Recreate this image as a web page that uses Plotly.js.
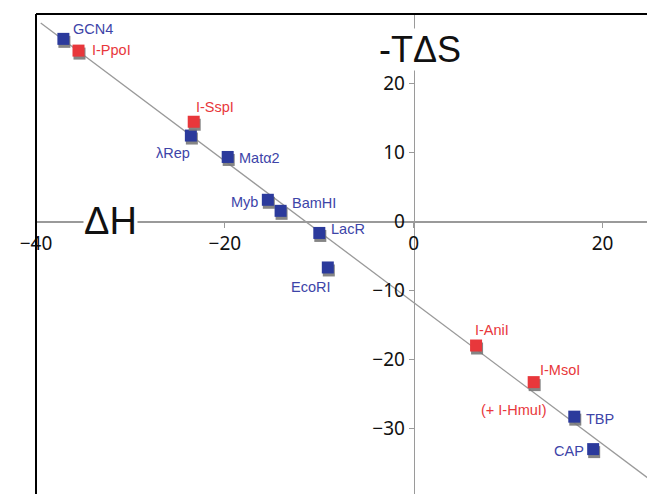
<!DOCTYPE html>
<html>
<head>
<meta charset="utf-8">
<script src="https://cdn.plot.ly/plotly-3.0.1.min.js"></script>
<style>
  html, body { margin: 0; padding: 0; background: #fff; }
  #chart { width: 647px; height: 494px; }
  .js-plotly-plot .scatterlayer .trace:nth-child(n+2) .points path {
    filter: drop-shadow(1px 3px 0px rgba(120,120,120,0.9));
  }
</style>
</head>
<body>
<div id="chart"></div>
<script>
// ---- data ----
const proteins = ['GCN4', 'I-PpoI', 'I-SspI', 'λRep', 'Matα2', 'Myb', 'BamHI', 'LacR', 'EcoRI', 'I-AniI', 'I-MsoI', 'TBP', 'CAP'];
const deltaH   = [-37.1, -35.5, -23.3, -23.6, -19.7, -15.45, -14.1, -10.0, -9.1, 6.6, 12.7, 17.0, 19.0];
const minusTdS = [26.4, 24.7, 14.4, 12.4, 9.3, 3.1, 1.5, -1.7, -6.7, -18.0, -23.3, -28.3, -33.0];
const family   = ['blue', 'red', 'red', 'blue', 'blue', 'blue', 'blue', 'blue', 'blue', 'red', 'red', 'blue', 'blue'];
const fitX     = [-39.5, 25];
const fitY     = [28.7, -37.4];
const noteText = '(+ I-HmuI)';
const noteFor  = 'I-MsoI';
const xTicks   = [-40, -20, 0, 20];
const yTicks   = [-30, -20, -10, 0, 10, 20];

// ---- styling ----
const markerColor = { blue: '#2b3a9c', red: '#e8373b' };
const labelColor  = { blue: '#3d44a8', red: '#e8373b' };
// label placement: [xanchor, xshift, yshift]
const labelPlace = {
  'GCN4':   ['left', 8, 10],
  'I-PpoI': ['left', 11, 1],
  'I-SspI': ['left', 0, 15],
  'λRep':   ['right', 1, -17],
  'Matα2':  ['left', 9, -1],
  'Myb':    ['right', -8, -2],
  'BamHI':  ['left', 9, 8],
  'LacR':   ['left', 10, 4],
  'EcoRI':  ['center', -17, -20],
  'I-AniI': ['center', 16, 16],
  'I-MsoI': ['left', 4, 12],
  'TBP':    ['left', 10, -2],
  'CAP':    ['right', -7, -2]
};

const xRange = [-40, 24.7];
const yRange = [-39.5, 30];

const traces = [{
  x: fitX, y: fitY, mode: 'lines', type: 'scatter',
  line: { color: '#9a9a9a', width: 1.3 }, hoverinfo: 'skip'
}];
['blue', 'red'].forEach(f => {
  const idx = proteins.map((p, i) => i).filter(i => family[i] === f);
  traces.push({
    x: idx.map(i => deltaH[i]), y: idx.map(i => minusTdS[i]),
    mode: 'markers', type: 'scatter',
    marker: { symbol: 'square', size: 12, color: markerColor[f] },
    text: idx.map(i => proteins[i]), hoverinfo: 'text'
  });
});

const labelFont = 'Liberation Sans, Arial, sans-serif';
const annotations = proteins.map((p, i) => {
  const pl = labelPlace[p];
  return {
    x: deltaH[i], y: minusTdS[i], xref: 'x', yref: 'y', text: p, showarrow: false,
    xanchor: pl[0], yanchor: 'middle', xshift: pl[1], yshift: pl[2],
    font: { family: labelFont, size: 14.5, color: labelColor[family[i]] }
  };
});
const ni = proteins.indexOf(noteFor);
annotations.push({
  x: deltaH[ni], y: minusTdS[ni], xref: 'x', yref: 'y', text: noteText, showarrow: false,
  xanchor: 'center', yanchor: 'middle', xshift: -20, yshift: -28,
  font: { family: labelFont, size: 14.5, color: labelColor.red }
});
// axis titles
annotations.push({
  x: -32.1, y: 0, xref: 'x', yref: 'y', text: 'ΔH', showarrow: false,
  xanchor: 'center', yanchor: 'middle', bgcolor: '#ffffff', borderpad: 0,
  font: { family: labelFont, size: 38, color: '#111' }
});
annotations.push({
  x: 0.7, y: 24.8, xref: 'x', yref: 'y', text: '-TΔS', showarrow: false,
  xanchor: 'center', yanchor: 'middle', bgcolor: '#ffffff', borderpad: 0,
  font: { family: labelFont, size: 36, color: '#111' }
});

const tickFont = { family: 'Noto Sans, DejaVu Sans, sans-serif', size: 19, color: '#111' };
const layout = {
  width: 647, height: 494,
  margin: { l: 36, r: 0, t: 14, b: 0, pad: 0 },
  paper_bgcolor: '#fff', plot_bgcolor: '#fff',
  showlegend: false,
  xaxis: {
    range: xRange, anchor: 'free', position: (0 - yRange[0]) / (yRange[1] - yRange[0]),
    showgrid: false, zeroline: false, showline: true, linecolor: '#9a9a9a', linewidth: 1.5,
    ticks: 'outside', ticklen: 5, tickcolor: '#9a9a9a', tickwidth: 1,
    tickvals: xTicks, tickfont: tickFont, ticklabelstandoff: 0
  },
  yaxis: {
    range: yRange, anchor: 'free', position: (0 - xRange[0]) / (xRange[1] - xRange[0]),
    showgrid: false, zeroline: false, showline: true, linecolor: '#9a9a9a', linewidth: 1.5,
    ticks: 'outside', ticklen: 5, tickcolor: '#9a9a9a', tickwidth: 1,
    tickvals: yTicks, tickfont: tickFont
  },
  shapes: [
    { type: 'line', xref: 'paper', yref: 'paper', x0: 0, x1: 0, y0: 0, y1: 1, line: { color: '#000', width: 2 } },
    { type: 'line', xref: 'paper', yref: 'paper', x0: 0, x1: 1, y0: 1, y1: 1, line: { color: '#000', width: 2 } }
  ],
  annotations: annotations
};

Plotly.newPlot('chart', traces, layout, { displayModeBar: false, staticPlot: true });
</script>
</body>
</html>
